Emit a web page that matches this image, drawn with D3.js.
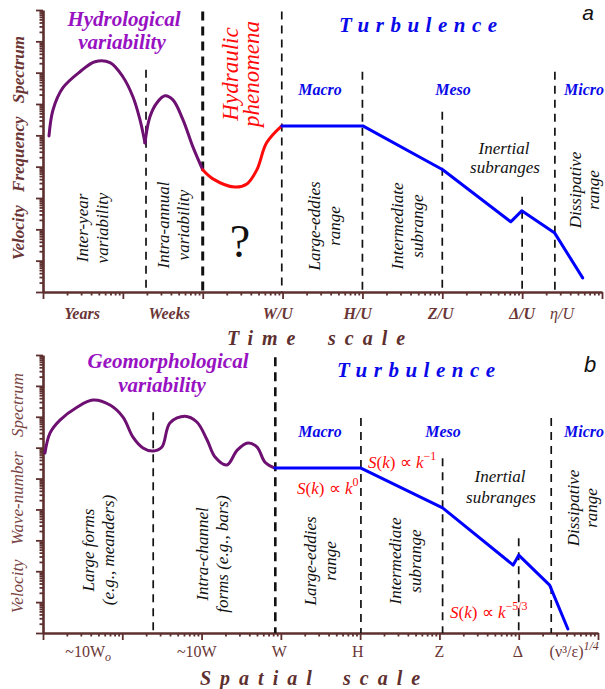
<!DOCTYPE html>
<html>
<head>
<meta charset="utf-8">
<script src="https://cdn.jsdelivr.net/npm/d3@7"></script>
<style>
  body { margin: 0; background: #fff; }
  svg { display: block; font-family: "Liberation Serif", "Times New Roman", serif; }
</style>
</head>
<body>
<svg id="chart" width="605" height="689"></svg>
<script>
// Spectra are sketched in decades: [log10(scale), log10(S)]
const hydroHump = [[0.075, 4.98], [0.125, 5.81], [0.25, 6.52], [0.463, 7.03], [0.651, 7.35],
  [0.839, 7.32], [1.0, 6.87], [1.126, 6.23], [1.214, 5.5], [1.277, 4.76]];
const hydroSeason = [[1.277, 4.76], [1.339, 5.59], [1.427, 6.04], [1.527, 6.26], [1.627, 6.13],
  [1.752, 5.5], [1.877, 4.63], [2.0, 3.9]];
const hydraulic = [[2.0, 3.9], [2.128, 3.61], [2.4, 3.35], [2.553, 3.45], [2.678, 3.9],
  [2.8, 4.76], [2.99, 5.3]];
const turbTime = [[2.99, 5.3], [4.005, 5.3], [5.006, 3.9], [5.857, 2.24], [5.995, 2.59],
  [6.408, 1.88], [6.758, 0.45]];

const geomorph = [[0.025, 5.83], [0.088, 6.47], [0.214, 6.89], [0.429, 7.31], [0.63, 7.54],
  [0.845, 7.38], [1.009, 6.99], [1.135, 6.34], [1.261, 5.99], [1.387, 5.89], [1.5, 6.02],
  [1.6, 6.8], [1.79, 7.02], [1.94, 6.83], [2.07, 6.25], [2.17, 5.7], [2.32, 5.44],
  [2.45, 5.92], [2.585, 6.15], [2.7, 6.02], [2.8, 5.53], [2.925, 5.34]];
const turbSpace = [[2.925, 5.34], [4.01, 5.34], [5.04, 4.05], [5.93, 2.2], [6.0, 2.52],
  [6.39, 1.55], [6.62, 0.13]];

// range dividers: [x decade, top decade]
const dividersA = [[1.29, 7.09], [2.99, 8.95], [4.0, 7.03], [5.0, 5.75], [6.0, 3.04], [6.41, 7.03]];
const bordersA = [[2.0, 8.95]];
const dividersB = [[1.39, 7.15], [4.01, 6.96], [5.04, 5.66], [6.0, 3.07], [6.41, 6.96]];
const bordersB = [[2.93, 8.93]];

const timeLabels = ['Years', 'Weeks', 'W/U', 'H/U', 'Z/U', 'Δ/U', 'η/U'];
const timeLabelAt = [0.49, 1.58, 2.94, 3.94, 4.98, 6.0, 6.5];
const spaceLabels = ['~10W_o', '~10W', 'W', 'H', 'Z', 'Δ', '(ν³/ε)^1/4'];
const spaceLabelAt = [0.57, 1.94, 2.98, 3.97, 5.0, 5.99, 6.7];

const brown = '#5e2f2f', labelBrown = '#6a3636';
const purple = '#6e0f72', purpleText = '#9812c2';
const blue = '#0000ff', blueText = '#0a0ae8', red = '#ff0a0a';

const svg = d3.select('#chart');
const dec = v => Math.pow(10, v);
const isMajor = v => Math.abs(Math.log10(v) - Math.round(Math.log10(v))) < 1e-9;

const panelA = {
  x: d3.scaleLog().domain([1, 1e7]).range([43, 602]),
  y: d3.scaleLog().domain([1, 1e9]).range([292, 10])
};
const panelB = {
  x: d3.scaleLog().domain([1, 1e7]).range([43, 598]),
  y: d3.scaleLog().domain([1, 1e9]).range([633, 355])
};

function drawAxes(p) {
  const gx = svg.append('g').attr('transform', `translate(0,${p.y.range()[0]})`)
    .call(d3.axisBottom(p.x).tickSizeOuter(0).tickFormat(''));
  gx.selectAll('.tick line').attr('y2', d => isMajor(d) ? 7 : 3.5);
  const gy = svg.append('g').attr('transform', `translate(${p.x.range()[0]},0)`)
    .call(d3.axisLeft(p.y).tickSizeOuter(0).tickFormat(''));
  gy.selectAll('.tick line').attr('x2', d => isMajor(d) ? -7 : -3.5);
  [gx, gy].forEach(g => {
    g.select('.domain').attr('stroke', brown).attr('stroke-width', 2.6);
    g.selectAll('.tick line').attr('stroke', brown).attr('stroke-width', 1.8);
  });
}

function drawDividers(p, rows, width, dash) {
  svg.append('g').selectAll('line').data(rows).enter().append('line')
    .attr('x1', d => p.x(dec(d[0]))).attr('x2', d => p.x(dec(d[0])))
    .attr('y1', d => p.y(dec(d[1]))).attr('y2', p.y(1))
    .attr('stroke', '#111').attr('stroke-width', width).attr('stroke-dasharray', dash);
}

function drawCurve(p, rows, color, curve) {
  const line = d3.line().x(d => p.x(dec(d[0]))).y(d => p.y(dec(d[1]))).curve(curve);
  svg.append('path').datum(rows).attr('d', line).attr('fill', 'none')
    .attr('stroke', color).attr('stroke-width', 3).attr('stroke-linejoin', 'round')
    .attr('stroke-linecap', 'round');
}

function text(x, y, str, o = {}) {
  return svg.append('text').attr('x', x).attr('y', y).text(str)
    .attr('text-anchor', o.anchor || 'middle')
    .attr('font-size', o.size || 17)
    .attr('font-style', o.style || 'italic')
    .attr('font-weight', o.weight || 'normal')
    .attr('fill', o.fill || '#111')
    .style('letter-spacing', o.spacing ? o.spacing + 'px' : null)
    .style('word-spacing', o.words ? o.words + 'px' : null);
}

// rotated two-line captions, cx is the middle between the two baselines
function vlabel(lines, cx, cy, o = {}) {
  lines.forEach((t, i) => {
    const bx = cx + (i - (lines.length - 1) / 2) * (o.gap || 20);
    text(0, 0, t, o).attr('transform', `translate(${bx},${cy}) rotate(-90)`);
  });
}

// S(k) ∝ k^exp
function power(x, y, exp) {
  const t = svg.append('text').attr('x', x).attr('y', y).attr('font-size', 17).attr('fill', red);
  t.append('tspan').attr('font-style', 'italic').text('S');
  t.append('tspan').text('(');
  t.append('tspan').attr('font-style', 'italic').text('k');
  t.append('tspan').text(') ∝ ');
  t.append('tspan').attr('font-style', 'italic').text('k');
  t.append('tspan').attr('dy', -8).attr('font-size', 12).text(exp);
}

// ---------- panel a ----------
drawAxes(panelA);
drawDividers(panelA, dividersA, 1.7, '8,6');
drawDividers(panelA, bordersA, 3, '9,6');
drawCurve(panelA, hydroHump, purple, d3.curveCatmullRom);
drawCurve(panelA, hydroSeason, purple, d3.curveCatmullRom);
drawCurve(panelA, hydraulic, red, d3.curveCatmullRom);
drawCurve(panelA, turbTime, blue, d3.curveLinear);

timeLabels.forEach((l, i) => {
  text(panelA.x(dec(timeLabelAt[i])), 319, l, {
    size: 16, weight: l === 'η/U' ? 'normal' : 'bold', fill: labelBrown
  });
});
text(227, 345, 'Time', { anchor: 'start', size: 20, weight: 'bold', fill: brown, spacing: 9 });
text(328, 345, 'scale', { anchor: 'start', size: 20, weight: 'bold', fill: brown, spacing: 9 });
text(0, 0, 'Velocity Frequency Spectrum', { size: 17, weight: 'bold', fill: labelBrown, words: 9 })
  .attr('transform', 'translate(24,148) rotate(-90)');

text(124, 26, 'Hydrological', { size: 21, weight: 'bold', fill: purpleText });
text(122, 49, 'variability', { size: 21, weight: 'bold', fill: purpleText });
vlabel(['Hydraulic', 'phenomena'], 248.5, 74, { size: 23, fill: red, gap: 21 });
text(339, 32, 'Turbulence', { anchor: 'start', size: 21, weight: 'bold', fill: blueText, spacing: 6.5 });
text(588, 20, 'a', { size: 21, fill: '#111' }).attr('font-family', '"Liberation Sans", Arial, sans-serif');
text(320, 95, 'Macro', { size: 16, weight: 'bold', fill: blueText });
text(453, 95, 'Meso', { size: 16, weight: 'bold', fill: blueText });
text(564, 95, 'Micro', { anchor: 'start', size: 16, weight: 'bold', fill: blueText });

vlabel(['Inter-year', 'variability'], 97.5, 228);
vlabel(['Intra-annual', 'variability'], 179, 225);
vlabel(['Large-eddies', 'range'], 329.5, 226);
vlabel(['Intermediate', 'subrange'], 413, 226);
vlabel(['Dissipative', 'range'], 590, 190, { gap: 18 });
text(504, 154, 'Inertial');
text(505, 173, 'subranges');
text(240, 257, '?', { size: 46, style: 'normal' });

// ---------- panel b ----------
drawAxes(panelB);
drawDividers(panelB, dividersB, 1.7, '8,6');
drawDividers(panelB, bordersB, 2.6, '9,6');
drawCurve(panelB, geomorph, purple, d3.curveCatmullRom);
drawCurve(panelB, turbSpace, blue, d3.curveLinear);

spaceLabels.forEach((l, i) => {
  const t = svg.append('text').attr('x', panelB.x(dec(spaceLabelAt[i]))).attr('y', 657)
    .attr('text-anchor', 'middle').attr('font-size', 16).attr('fill', labelBrown);
  const [main, sub] = l.split('_');
  const [base, sup] = main.split('^');
  t.append('tspan').text(base);
  if (sub) t.append('tspan').attr('dy', 4).attr('font-size', 12).attr('font-style', 'italic').text(sub);
  if (sup) t.append('tspan').attr('dy', -7).attr('font-size', 12).attr('font-style', 'italic').text(sup);
});
text(200, 685, 'Spatial', { anchor: 'start', size: 20, weight: 'bold', fill: brown, spacing: 9 });
text(343, 685, 'scale', { anchor: 'start', size: 20, weight: 'bold', fill: brown, spacing: 9 });
text(0, 0, 'Velocity Wave-number Spectrum', { size: 17, fill: '#7a4545', words: 10 })
  .attr('transform', 'translate(23,493) rotate(-90)');

text(168, 368, 'Geomorphological', { size: 21, weight: 'bold', fill: purpleText });
text(162, 392, 'variability', { size: 21, weight: 'bold', fill: purpleText });
text(337, 377, 'Turbulence', { anchor: 'start', size: 21, weight: 'bold', fill: blueText, spacing: 6.5 });
text(590, 372, 'b', { size: 22, fill: '#111' }).attr('font-family', '"Liberation Sans", Arial, sans-serif');
text(320, 437, 'Macro', { size: 16, weight: 'bold', fill: blueText });
text(443, 437, 'Meso', { size: 16, weight: 'bold', fill: blueText });
text(564, 437, 'Micro', { anchor: 'start', size: 16, weight: 'bold', fill: blueText });

power(297, 494, '0');
power(368, 468, '−1');
power(450, 618, '−5/3');

vlabel(['Large forms', '(e.g., meanders)'], 103.5, 550);
vlabel(['Intra-channel', 'forms (e.g., bars)'], 217.5, 554);
vlabel(['Large-eddies', 'range'], 326, 561);
vlabel(['Intermediate', 'subrange'], 410.5, 561);
vlabel(['Dissipative', 'range'], 588, 508, { gap: 18 });
text(500, 482, 'Inertial');
text(501, 503, 'subranges');
</script>
</body>
</html>
